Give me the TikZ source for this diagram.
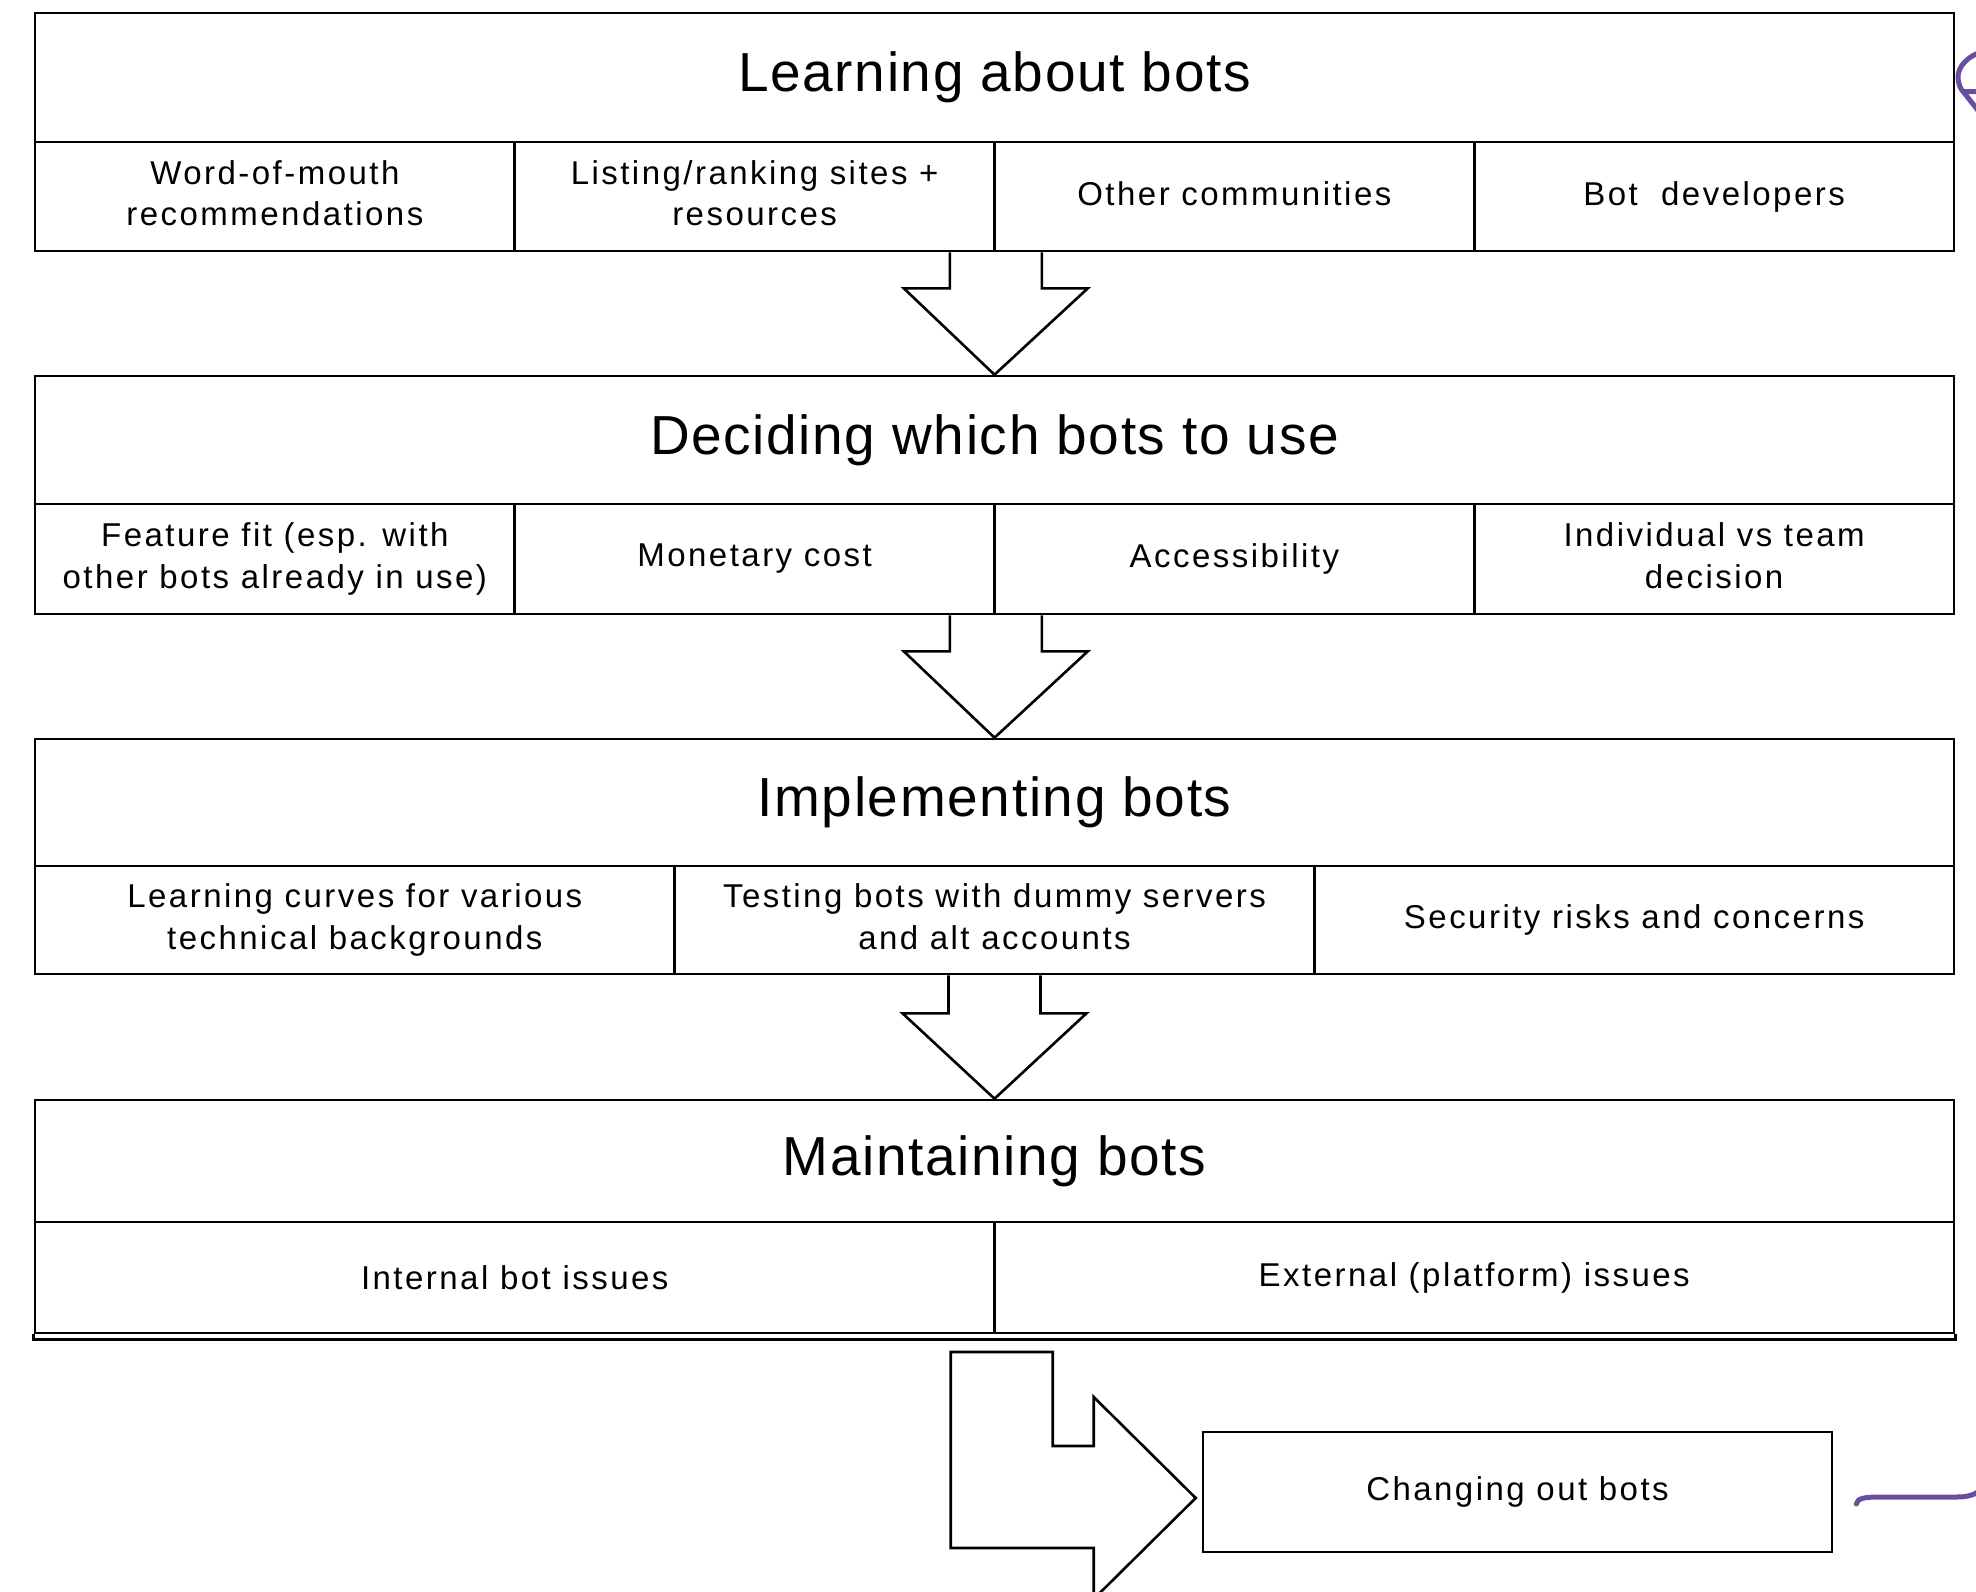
\documentclass[tikz,border=0pt]{standalone}
\usepackage{fontspec}
\setmainfont{Liberation Sans}
\newfontfamily\headfont[LetterSpace=3]{Liberation Sans}
\newfontfamily\cellfont[LetterSpace=7.5]{Liberation Sans}
\usetikzlibrary{calc}
\definecolor{inkpurple}{RGB}{103,79,158}
% keeps lines without descenders at the same depth as the others
\newcommand{\lowline}{\vphantom{y}}
\begin{document}
\begin{tikzpicture}[x=1pt,y=-1pt,
  stage/.style={draw, line width=2.6pt, minimum width=1919pt, inner sep=0pt,
    font=\headfont\fontsize{55}{66}\selectfont},
  cell/.style={draw, line width=2.6pt, inner sep=0pt, align=center,
    font=\cellfont\fontsize{33}{41.6}\selectfont},
  cell4/.style={cell, minimum width=479.75pt},
  cell3/.style={cell, minimum width=639.67pt},
  cell2/.style={cell, minimum width=959.5pt},
  blockarrow/.style={draw, fill=white, line width=2.6pt, line join=miter},
  note/.style={draw=inkpurple, line width=5pt, line cap=round, line join=round}]
\useasboundingbox (0,0) rectangle (1976,1591);

% Stage 1: learning
\node[stage, minimum height=129pt] (t1) at (994.5,77.5) {Learning about bots};
\node[cell4, minimum height=109pt] (c11) at (274.875,196.5) {Word-of-mouth\\recommendations\lowline};
\node[cell4, minimum height=109pt] (c12) at (754.625,196.5) {Listing/ranking sites +\\resources\lowline};
\node[cell4, minimum height=109pt] (c13) at (1234.375,196.5) {Other communities\lowline};
\node[cell4, minimum height=109pt] (c14) at (1714.125,196.5) {Bot~ developers};

% Stage 2: deciding
\node[stage, minimum height=128pt] (t2) at (994.5,440) {Deciding which bots to use};
\node[cell4, minimum height=110pt] (c21) at (274.875,559) {Feature fit (esp. with\\other bots already in use)};
\node[cell4, minimum height=110pt] (c22) at (754.625,559) {Monetary cost};
\node[cell4, minimum height=110pt] (c23) at (1234.375,559) {Accessibility};
\node[cell4, minimum height=110pt] (c24) at (1714.125,559) {Individual vs team\\decision\lowline};

% Stage 3: implementing
\node[stage, minimum height=127pt] (t3) at (994.5,802.5) {Implementing bots};
\node[cell3, minimum height=108pt] (c31) at (354.83,920) {Learning curves for various\\technical backgrounds};
\node[cell3, minimum height=108pt] (c32) at (994.5,920) {Testing bots with dummy servers\\and alt accounts\lowline};
\node[cell3, minimum height=108pt] (c33) at (1634.17,920) {Security risks and concerns};

% Stage 4: maintaining
\node[stage, minimum height=122pt] (t4) at (994.5,1161) {Maintaining bots};
\node[cell2, minimum height=111pt] (c41) at (514.75,1277.5) {Internal bot issues};
\node[cell2, minimum height=111pt] (c42) at (1474.25,1277.5) {External (platform) issues};
\draw[line width=2.6pt] (c41.south west) -- ++(0,5) -- ($(c42.south east)+(0,5)$) -- (c42.south east);

% Side step
\node[draw, line width=2.6pt, minimum width=629pt, minimum height=120pt, inner sep=0pt,
  font=\cellfont\fontsize{33}{41.6}\selectfont] (chg) at (1517.5,1492) {Changing out bots};

% Down arrows between stages
\draw[blockarrow] ($(c12.south east)+(-46,0)$) -- ++(0,36) -- ++(-46,0) -- (t2.north)
  -- ($(c12.south east)+(92,36)$) -- ++(-46,0) -- ++(0,-36);
\draw[blockarrow] ($(c22.south east)+(-46,0)$) -- ++(0,36) -- ++(-46,0) -- (t3.north)
  -- ($(c22.south east)+(92,36)$) -- ++(-46,0) -- ++(0,-36);
\draw[blockarrow] ($(c32.south)+(-46,0)$) -- ++(0,38) -- ++(-46,0) -- (t4.north)
  -- ($(c32.south)+(92,38)$) -- ++(-46,0) -- ++(0,-38);

% Bent arrow into the side step
\coordinate (tip) at ($(chg.west)+(-6,6)$);
\draw[blockarrow] ($(tip)+(-245,-146)$) -- ++(102,0) -- ++(0,94) -- ++(41,0) -- ++(0,-49)
  -- (tip) -- ++(-102,101) -- ++(0,-51) -- ++(-143,0) -- cycle;

% Hand-drawn loop back to the first stage
\coordinate (n1) at ($(chg.east)+(23,12)$);
\draw[note] (n1) .. controls ($(n1)+(1,-6)$) and ($(n1)+(8,-7)$) .. ($(n1)+(25,-7)$)
  -- ($(n1)+(100,-7)$) .. controls ($(n1)+(112,-7)$) and ($(n1)+(118,-9)$) .. ($(n1)+(126,-15)$);
\coordinate (n2) at ($(t1.north east)+(24,41)$);
\draw[note] (n2) .. controls ($(n2)+(-16,6)$) and ($(n2)+(-23,18)$) .. ($(n2)+(-21,28)$)
  .. controls ($(n2)+(-20,34)$) and ($(n2)+(-18,37)$) .. ($(n2)+(-16,39)$) -- ($(n2)+(2,39)$);
\draw[note] ($(n2)+(-16,39)$) -- ($(n2)+(2,62)$);
\end{tikzpicture}
\end{document}
